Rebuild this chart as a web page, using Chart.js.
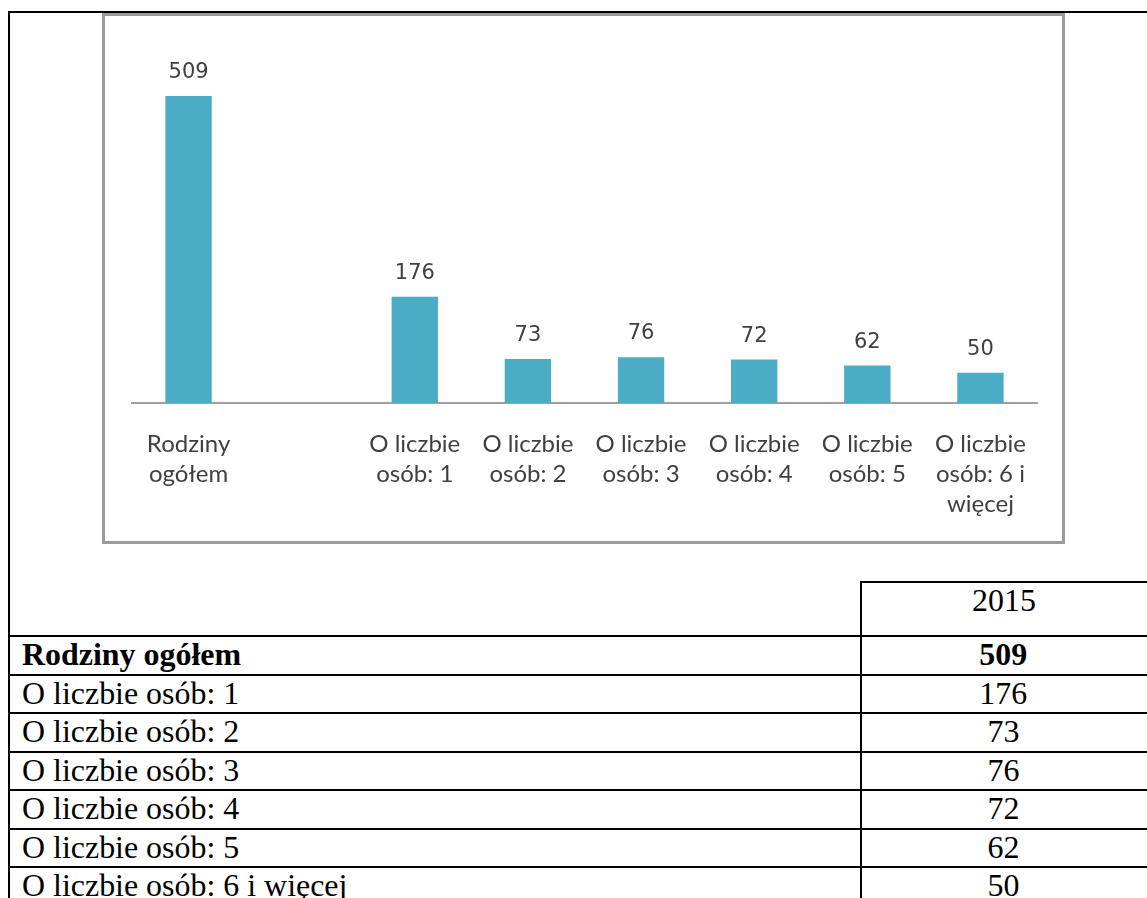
<!DOCTYPE html>
<html><head><meta charset="utf-8">
<script src="https://cdn.jsdelivr.net/npm/chart.js@4.4.1/dist/chart.umd.min.js"></script>
<style>
html,body{margin:0;padding:0;background:#fff;width:1147px;height:898px;overflow:hidden;position:relative;}
.ln{position:absolute;background:#000;}
#box{position:absolute;left:102px;top:13px;width:957px;height:525px;border:3px solid #9a9a9a;}
#c{position:absolute;left:0;top:0;}
.cell{position:absolute;display:flex;align-items:center;font-family:"Liberation Serif","Times New Roman",serif;font-size:31px;color:#000;white-space:nowrap;}
.cell span{display:inline-block;transform:scaleX(1.03);}
.lab span{transform-origin:left center;}
.num{justify-content:center;}
.num span{transform-origin:center center;}
</style></head>
<body>
<div class="ln" style="left:8px;top:11px;width:1139px;height:2px"></div>
<div class="ln" style="left:8px;top:11px;width:2px;height:887px"></div>
<div id="box"><canvas id="c" width="957" height="525"></canvas></div>
<div id="table"></div>
<script>
const categoryLabels = [["Rodziny","ogółem"], "", ["O liczbie","osób: 1"], ["O liczbie","osób: 2"], ["O liczbie","osób: 3"], ["O liczbie","osób: 4"], ["O liczbie","osób: 5"], ["O liczbie","osób: 6 i","więcej"]];
const values = [509, null, 176, 73, 76, 72, 62, 50];
const rowLabels = ["Rodziny ogółem","O liczbie osób: 1","O liczbie osób: 2","O liczbie osób: 3","O liczbie osób: 4","O liczbie osób: 5","O liczbie osób: 6 i więcej"];
const yearLabel = "2015";

// ---- table ----
const tbl = document.getElementById('table');
function add(html){ tbl.insertAdjacentHTML('beforeend', html); }
const colX = 860, headTop = 581, firstRow = 635, rowH = 38.5;
add(`<div class="ln" style="left:${colX}px;top:${headTop}px;width:${1147-colX}px;height:2px"></div>`);
add(`<div class="ln" style="left:${colX}px;top:${headTop}px;width:2px;height:${898-headTop}px"></div>`);
add(`<div class="cell num" style="left:${colX}px;top:${headTop+2}px;width:${1147-colX}px;height:36px"><span>${yearLabel}</span></div>`);
const tableValues = values.filter(v => v !== null);
rowLabels.forEach((lab, i) => {
  const y = Math.round(firstRow + i*rowH);
  add(`<div class="ln" style="left:8px;top:${y}px;width:1139px;height:2px"></div>`);
  const bold = i === 0 ? 'font-weight:bold;' : '';
  add(`<div class="cell lab" style="${bold}left:22px;top:${y+2}px;height:${rowH-2}px"><span>${lab}</span></div>`);
  add(`<div class="cell num" style="${bold}left:${colX}px;top:${y+2}px;width:${1147-colX}px;height:${rowH-2}px"><span>${tableValues[i]}</span></div>`);
});

// ---- chart ----
const valueLabels = {
  id: 'valueLabels',
  afterDatasetsDraw(chart) {
    const ctx = chart.ctx, meta = chart.getDatasetMeta(0);
    ctx.save();
    ctx.font = '21px "DejaVu Sans"';
    ctx.fillStyle = '#404040';
    ctx.textAlign = 'center';
    ctx.textBaseline = 'alphabetic';
    meta.data.forEach((bar, i) => {
      const v = chart.data.datasets[0].data[i];
      if (v === null) return;
      ctx.fillText(String(v), bar.x, bar.y - 18);
    });
    ctx.restore();
  }
};
new Chart(document.getElementById('c'), {
  type: 'bar',
  data: { labels: categoryLabels, datasets: [{ data: values, backgroundColor: '#4bacc6', borderWidth: 0, barPercentage: 0.41, categoryPercentage: 1 }] },
  options: {
    responsive: false, animation: false, devicePixelRatio: 1,
    layout: { padding: { left: 27, right: 25, top: 25, bottom: 0 } },
    plugins: { legend: { display: false }, tooltip: { enabled: false } },
    scales: {
      x: {
        grid: { display: false, drawTicks: false },
        border: { display: true, color: '#a0a0a0', width: 2 },
        ticks: { color: '#404040', font: { family: 'Lato', size: 24, lineHeight: 1.25 }, padding: 26, maxRotation: 0, autoSkip: false },
        afterFit: (s) => { s.height = 138; }
      },
      y: { display: false, min: 0, max: 600 }
    }
  },
  plugins: [valueLabels]
});
</script>
</body></html>
